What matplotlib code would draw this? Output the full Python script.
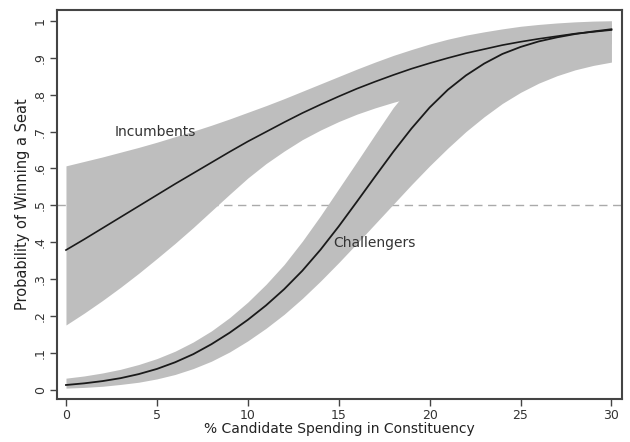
import matplotlib
matplotlib.use("Agg")
import matplotlib.pyplot as plt

spending = list(range(0, 31))

incumbent_prob = [0.379, 0.408, 0.438, 0.468, 0.498, 0.528, 0.558, 0.587, 0.616, 0.645,
                  0.673, 0.699, 0.725, 0.750, 0.773, 0.795, 0.816, 0.835, 0.853, 0.870,
                  0.885, 0.899, 0.912, 0.923, 0.934, 0.943, 0.951, 0.958, 0.965, 0.970, 0.975]
incumbent_lo = [0.176, 0.208, 0.242, 0.278, 0.316, 0.356, 0.397, 0.440, 0.485, 0.530,
                0.574, 0.613, 0.647, 0.678, 0.704, 0.727, 0.747, 0.764, 0.779, 0.792,
                0.805, 0.820, 0.835, 0.850, 0.865, 0.880, 0.893, 0.905, 0.917, 0.928, 0.938]
incumbent_hi = [0.607, 0.619, 0.631, 0.644, 0.657, 0.671, 0.686, 0.701, 0.717, 0.734,
                0.752, 0.770, 0.789, 0.809, 0.829, 0.849, 0.869, 0.888, 0.906, 0.922,
                0.937, 0.950, 0.961, 0.970, 0.978, 0.985, 0.990, 0.994, 0.997, 0.999, 1.000]

challenger_prob = [0.0135, 0.018, 0.024, 0.032, 0.043, 0.057, 0.075, 0.097, 0.124, 0.155,
                   0.190, 0.229, 0.273, 0.323, 0.380, 0.443, 0.510, 0.578, 0.645, 0.708,
                   0.765, 0.813, 0.852, 0.884, 0.910, 0.929, 0.944, 0.955, 0.964, 0.971, 0.977]
challenger_lo = [0.005, 0.007, 0.010, 0.015, 0.021, 0.030, 0.042, 0.058, 0.078, 0.103,
                 0.133, 0.167, 0.205, 0.248, 0.295, 0.345, 0.397, 0.450, 0.503, 0.556,
                 0.607, 0.655, 0.700, 0.740, 0.776, 0.806, 0.831, 0.851, 0.867, 0.879, 0.888]
challenger_hi = [0.032, 0.038, 0.046, 0.056, 0.069, 0.085, 0.105, 0.130, 0.160, 0.196,
                 0.238, 0.286, 0.340, 0.403, 0.472, 0.545, 0.618, 0.692, 0.765, 0.825,
                 0.865, 0.895, 0.920, 0.940, 0.955, 0.967, 0.976, 0.983, 0.988, 0.991, 0.993]

x_ticks = [0, 5, 10, 15, 20, 25, 30]
y_ticks = [0, 0.1, 0.2, 0.3, 0.4, 0.5, 0.6, 0.7, 0.8, 0.9, 1.0]
y_ticklabels = ["0", ".1", ".2", ".3", ".4", ".5", ".6", ".7", ".8", ".9", "1"]

fig = plt.figure(figsize=(6.3, 4.42), dpi=100)
ax = fig.add_axes([0.090, 0.0973, 0.897, 0.880])

band_color = "#bebebe"
ax.axhline(0.5, color="#aaaaaa", lw=1.0, ls=(0, (6, 4)), zorder=1)
ax.fill_between(spending, incumbent_lo, incumbent_hi, color=band_color, lw=0, zorder=2)
ax.fill_between(spending, challenger_lo, challenger_hi, color=band_color, lw=0, zorder=2)
ax.plot(spending, incumbent_prob, color="#1a1a1a", lw=1.2, zorder=3)
ax.plot(spending, challenger_prob, color="#1a1a1a", lw=1.3, zorder=3)

ax.text(2.7, 0.699, "Incumbents", fontsize=10, color="#333333", va="center", ha="left")
ax.text(14.7, 0.398, "Challengers", fontsize=10, color="#333333", va="center", ha="left")

ax.set_xlim(-0.51, 30.57)
ax.set_ylim(-0.0244, 1.029)
ax.set_xticks(x_ticks)
ax.set_yticks(y_ticks)
ax.set_yticklabels(y_ticklabels, rotation=90, va="center")
ax.tick_params(axis="both", direction="out", length=5, width=1.0, color="#444444",
               labelcolor="#333333", labelsize=9, pad=2)
for s in ax.spines.values():
    s.set_color("#444444")
    s.set_linewidth(1.5)

ax.set_xlabel("% Candidate Spending in Constituency", fontsize=10, color="#222222", labelpad=0)
ax.set_ylabel("Probability of Winning a Seat", fontsize=10.5, color="#222222", labelpad=3)

fig.savefig("out.png", dpi=100)
